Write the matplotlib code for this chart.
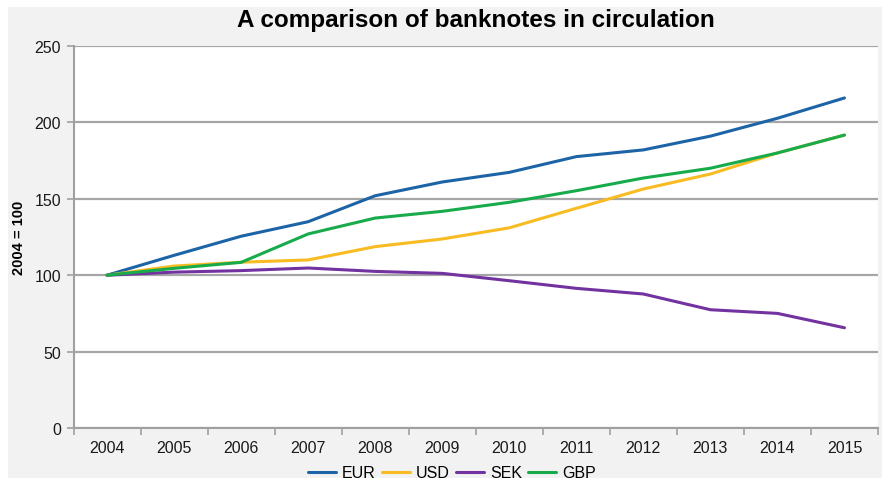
import matplotlib.pyplot as plt
import numpy as np
from matplotlib.patches import Rectangle

years = ["2004", "2005", "2006", "2007", "2008", "2009", "2010", "2011", "2012", "2013", "2014", "2015"]
eur = [100, 113, 125.5, 135, 152, 161, 167.3, 177.6, 182, 191, 202.7, 216]
usd = [100, 106, 108.5, 110, 118.7, 123.7, 131, 143.8, 156.4, 166.2, 180, 191.7]
sek = [100, 102, 103, 104.7, 102.5, 101.2, 96.4, 91.4, 87.7, 77.4, 75, 65.6]
gbp = [100, 104.5, 108.4, 127, 137.4, 141.8, 147.7, 155.3, 163.6, 170, 180, 191.7]

series = [("EUR", eur, "#1c64a6"), ("USD", usd, "#f8bb22"), ("SEK", sek, "#7232a0"), ("GBP", gbp, "#17ab4b")]

plt.rcParams["font.family"] = ["Liberation Sans", "DejaVu Sans"]

fig = plt.figure(figsize=(8.82, 4.81), dpi=100)
# grey chart-area panel behind everything
fig.patches.append(Rectangle((8 / 882, 2 / 481), 874 / 882, 471 / 481, transform=fig.transFigure,
                             facecolor="#f2f2f2", edgecolor="none", zorder=-10))
ax = fig.add_axes([73.5 / 882, 1 - 429 / 481, 804.5 / 882, 382 / 481])
ax.set_facecolor("white")

x = np.arange(len(years))
for name, vals, color in series:
    ax.plot(x, vals, color=color, linewidth=2.2, label=name, solid_capstyle="round")

ax.set_xlim(-0.5, len(years) - 0.5)
ax.set_ylim(0, 250)
ax.set_yticks(np.arange(0, 251, 50))
ax.grid(axis="y", color="#a6a6a6", linewidth=1.6)
ax.set_axisbelow(True)

ax.set_xticks(x, labels=years)
ax.set_xticks(np.arange(-0.5, len(years), 1.0), minor=True)
ax.tick_params(axis="x", which="major", length=0, pad=9, labelsize=11.5, colors="#1a1a1a")
ax.tick_params(axis="x", which="minor", length=5, width=1.2, color="#a0a0a0")
ax.tick_params(axis="y", length=5, width=1.2, color="#a0a0a0", labelsize=11.5, labelcolor="#1a1a1a", pad=4)

for side in ["top", "right"]:
    ax.spines[side].set_visible(False)
for side in ["left", "bottom"]:
    ax.spines[side].set_color("#a0a0a0")
    ax.spines[side].set_linewidth(1.5)

ax.set_ylabel("2004 = 100", fontsize=10.5, fontweight="bold", labelpad=6)
fig.text(476 / 882, 1 - 21 / 481, "A comparison of banknotes in circulation", ha="center", va="center",
         fontsize=17.5, fontweight="bold")

fig.legend(loc="center", bbox_to_anchor=(452 / 882, 1 - 474 / 481), ncol=4, frameon=False, fontsize=11.5,
           handlelength=1.75, handletextpad=0.36, columnspacing=0.4, borderpad=0)

fig.savefig("out.png", dpi=100)
